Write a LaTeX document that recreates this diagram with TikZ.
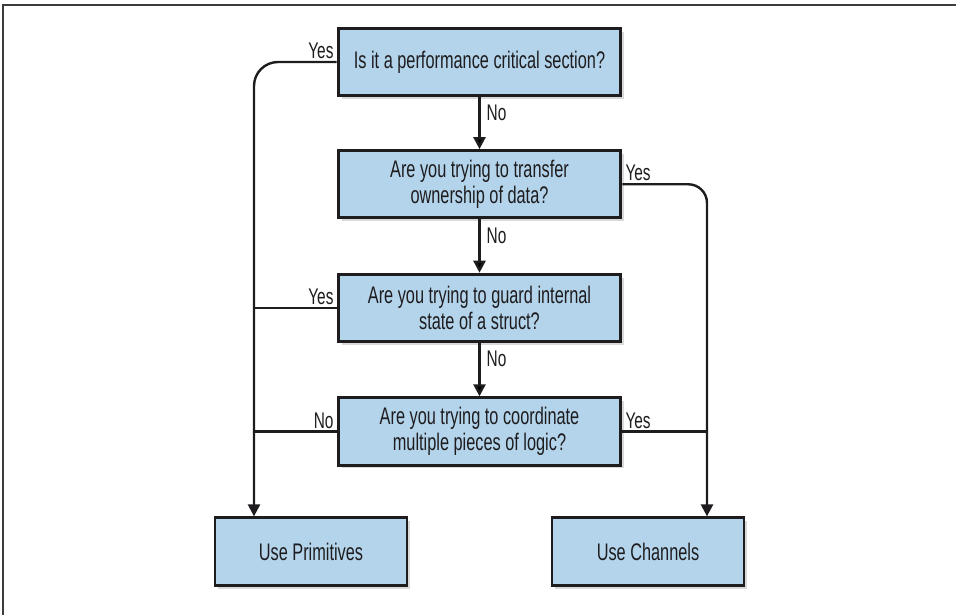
\documentclass[tikz,border=0pt]{standalone}
\usepackage{fontspec}
\setmainfont{Liberation Sans}[FakeStretch=0.68]
\usepackage{tikz}
\usetikzlibrary{positioning,arrows.meta,shadows}
\definecolor{boxblue}{RGB}{179,212,234}
\definecolor{framegray}{RGB}{60,60,60}
\definecolor{inkblack}{RGB}{30,28,30}
\tikzset{question node/.style={rectangle,fill=boxblue,draw=inkblack,text=inkblack,line width=2.2pt,minimum width=212pt,minimum height=50.5pt,inner sep=0pt,align=center,font=\fontsize{18}{19.5}\selectfont,drop shadow={shadow xshift=2.5pt,shadow yshift=-2.5pt,opacity=0.3}},
  answer node/.style={question node,minimum width=144pt},
  flow/.style={draw=inkblack,line width=1.8pt},
  label node/.style={font=\fontsize{17}{18}\selectfont,text=inkblack,inner sep=1.5pt},}

\begin{document}
\begin{tikzpicture}[x=0.75pt,y=-0.75pt]
      \useasboundingbox (0,0) rectangle (956,615);
      \draw[framegray,line width=1.5pt] (956,5) -- (3,5) -- (3,615);

      \node[question node] (crit) at (479.5,62) {Is it a performance critical section?};
      \node[question node] (own) [below = 39pt of crit] {Are you trying to transfer\\ownership of data?};
      \node[question node] (guard) [below = 40pt of own] {Are you trying to guard internal\\state of a struct?};
      \node[question node] (logic) [below = 40pt of guard] {Are you trying to coordinate\\multiple pieces of logic?};
      \node[answer node] (prim) at (311,551.5) {Use Primitives};
      \node[answer node] (chan) at (648,551.5) {Use Channels};

      \coordinate (prim in) at ([xshift=-42.75pt]prim.north);
      \coordinate (chan in) at ([xshift=44.25pt]chan.north);

      % down the middle
      \path[flow][-{Triangle[length=9pt,width=9pt]}]
        (crit) edge node[label node,right=3pt,pos=0.3] {No} (own)
        (own) edge node[label node,right=3pt,pos=0.3] {No} (guard)
        (guard) edge node[label node,right=3pt,pos=0.3] {No} (logic);

      % to primitives
      \draw[flow,rounded corners=18pt,-{Triangle[length=9pt,width=9pt]}]
        (crit.west) node[label node,above left] {Yes} -| (prim in);
      \draw[flow] (guard.west) node[label node,above left] {Yes} -- (guard.west -| prim in);
      \draw[flow] (logic.west) node[label node,above left] {No} -- (logic.west -| prim in);

      % to channels
      \draw[flow,rounded corners=14pt,-{Triangle[length=9pt,width=9pt]}]
        (own.east) node[label node,above right] {Yes} -| (chan in);
      \draw[flow] (logic.east) node[label node,above right] {Yes} -- (logic.east -| chan in);

    \end{tikzpicture}
\end{document}
